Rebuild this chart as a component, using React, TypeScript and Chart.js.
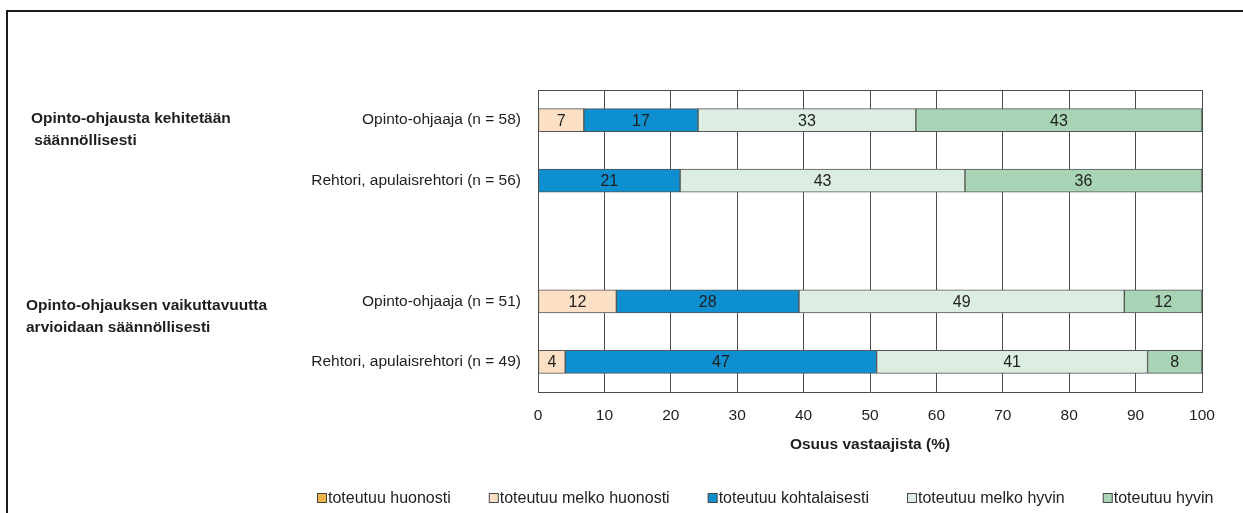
import React, { useEffect, useRef } from 'react';
import { Chart, registerables } from 'chart.js';

Chart.register(...registerables);

const categories = [
  'Opinto-ohjaaja (n = 58)',
  'Rehtori, apulaisrehtori (n = 56)',
  '',
  'Opinto-ohjaaja (n = 51)',
  'Rehtori, apulaisrehtori (n = 49)',
];
const groupTitles = [
  ['Opinto-ohjausta kehitetään', ' säännöllisesti'],
  ['Opinto-ohjauksen vaikuttavuutta', 'arvioidaan säännöllisesti'],
];
const seriesNames = [
  'toteutuu huonosti',
  'toteutuu melko huonosti',
  'toteutuu kohtalaisesti',
  'toteutuu melko hyvin',
  'toteutuu hyvin',
];
const huonosti = [null, null, null, null, null];
const melkoHuonosti = [6.9, null, null, 11.8, 4.1];
const kohtalaisesti = [17.2, 21.4, null, 27.5, 46.9];
const melkoHyvin = [32.8, 42.9, null, 49.0, 40.8];
const hyvin = [43.1, 35.7, null, 11.7, 8.2];
const xAxisTitle = 'Osuus vastaajista (%)';
const xMin = 0;
const xMax = 100;
const xStep = 10;

const seriesColors = ['#f0b445', '#fce0c6', '#0e8fd0', '#dcede1', '#a8d4b5'];
const FONT = '"Liberation Sans", Arial, sans-serif';
const TEXT = '#1e1e1e';
const LINE = '#4d4d4d';

const decor = {
  id: 'decor',
  beforeDraw(chart: any) {
    const ctx = chart.ctx;
    ctx.save();
    ctx.fillStyle = '#ffffff';
    ctx.fillRect(0, 0, chart.width, chart.height);
    ctx.strokeStyle = '#1a1a1a';
    ctx.lineWidth = 2;
    ctx.beginPath();
    ctx.moveTo(7, chart.height + 2);
    ctx.lineTo(7, 11);
    ctx.lineTo(chart.width + 2, 11);
    ctx.stroke();
    ctx.restore();
  },
  beforeDatasetsDraw(chart: any) {
    const { ctx, chartArea } = chart;
    ctx.save();
    ctx.strokeStyle = LINE;
    ctx.lineWidth = 1;
    ctx.beginPath();
    ctx.moveTo(chartArea.left, Math.round(chartArea.top) + 0.5);
    ctx.lineTo(chartArea.right, Math.round(chartArea.top) + 0.5);
    ctx.stroke();
    ctx.restore();
  },
  afterDatasetsDraw(chart: any) {
    const ctx = chart.ctx;
    ctx.save();
    ctx.font = `16px ${FONT}`;
    ctx.fillStyle = TEXT;
    ctx.textAlign = 'center';
    ctx.textBaseline = 'middle';
    chart.data.datasets.forEach((ds: any, di: number) => {
      const meta = chart.getDatasetMeta(di);
      meta.data.forEach((el: any, i: number) => {
        const v = ds.data[i];
        if (v == null) return;
        ctx.fillText(String(Math.round(v)), (el.x + el.base) / 2, el.y + 1);
      });
    });
    ctx.restore();
  },
  afterDraw(chart: any) {
    const { ctx, chartArea } = chart;
    const yScale = chart.scales.y;
    ctx.save();
    ctx.fillStyle = TEXT;
    ctx.font = `bold 15.5px ${FONT}`;
    ctx.textBaseline = 'alphabetic';
    ctx.textAlign = 'left';
    const g1 = yScale.getPixelForValue(0);
    ctx.fillText(groupTitles[0][0], 31, g1 + 3);
    ctx.fillText(groupTitles[0][1], 30, g1 + 25);
    const g2 = yScale.getPixelForValue(3);
    ctx.fillText(groupTitles[1][0], 26, g2 + 9);
    ctx.fillText(groupTitles[1][1], 26, g2 + 30.5);

    ctx.textAlign = 'center';
    ctx.textBaseline = 'middle';
    ctx.fillText(xAxisTitle, (chartArea.left + chartArea.right) / 2, 445);

    ctx.font = `16px ${FONT}`;
    ctx.textAlign = 'left';
    let x = 317;
    const y = 498;
    seriesNames.forEach((name, i) => {
      ctx.fillStyle = seriesColors[i];
      ctx.fillRect(x + 0.5, y - 4.5, 9, 9);
      ctx.strokeStyle = '#444444';
      ctx.lineWidth = 1;
      ctx.strokeRect(x + 0.5, y - 4.5, 9, 9);
      ctx.fillStyle = TEXT;
      ctx.fillText(name, x + 11, y + 1);
      x += 11 + ctx.measureText(name).width + 38;
    });
    ctx.restore();
  },
};

export default function App() {
  const ref = useRef<HTMLCanvasElement>(null);
  useEffect(() => {
    if (!ref.current) return;
    const seriesData = [huonosti, melkoHuonosti, kohtalaisesti, melkoHyvin, hyvin];
    const chart = new Chart(ref.current, {
      type: 'bar',
      data: {
        labels: categories,
        datasets: seriesNames.map((name, i) => ({
          label: name,
          data: seriesData[i] as any,
          backgroundColor: seriesColors[i],
          borderColor: '#555555',
          borderWidth: 1,
          borderSkipped: false,
          barThickness: 23,
        })),
      },
      options: {
        indexAxis: 'y',
        responsive: false,
        animation: false,
        layout: { padding: { top: 90, right: 41, bottom: 0, left: 0 } },
        plugins: {
          legend: { display: false },
          tooltip: { enabled: false },
        },
        scales: {
          x: {
            stacked: true,
            min: xMin,
            max: xMax,
            ticks: {
              stepSize: xStep,
              padding: 14,
              color: TEXT,
              font: { family: FONT, size: 15.5 },
              maxRotation: 0,
            },
            grid: { color: LINE, lineWidth: 1, drawTicks: false },
            border: { display: true, color: LINE },
            afterFit: (s: any) => {
              s.height = 121;
            },
          },
          y: {
            stacked: true,
            ticks: {
              padding: 17,
              color: TEXT,
              font: { family: FONT, size: 15.5 },
            },
            grid: { display: false, drawTicks: false },
            border: { display: false },
            afterFit: (s: any) => {
              s.width = 538;
            },
          },
        },
      },
      plugins: [decor],
    });
    return () => chart.destroy();
  }, []);
  return (
    <div style={{ position: 'fixed', left: 0, top: 0, width: 1243, height: 513, overflow: 'hidden', background: '#fff' }}>
      <canvas ref={ref} width={1243} height={513} />
    </div>
  );
}
